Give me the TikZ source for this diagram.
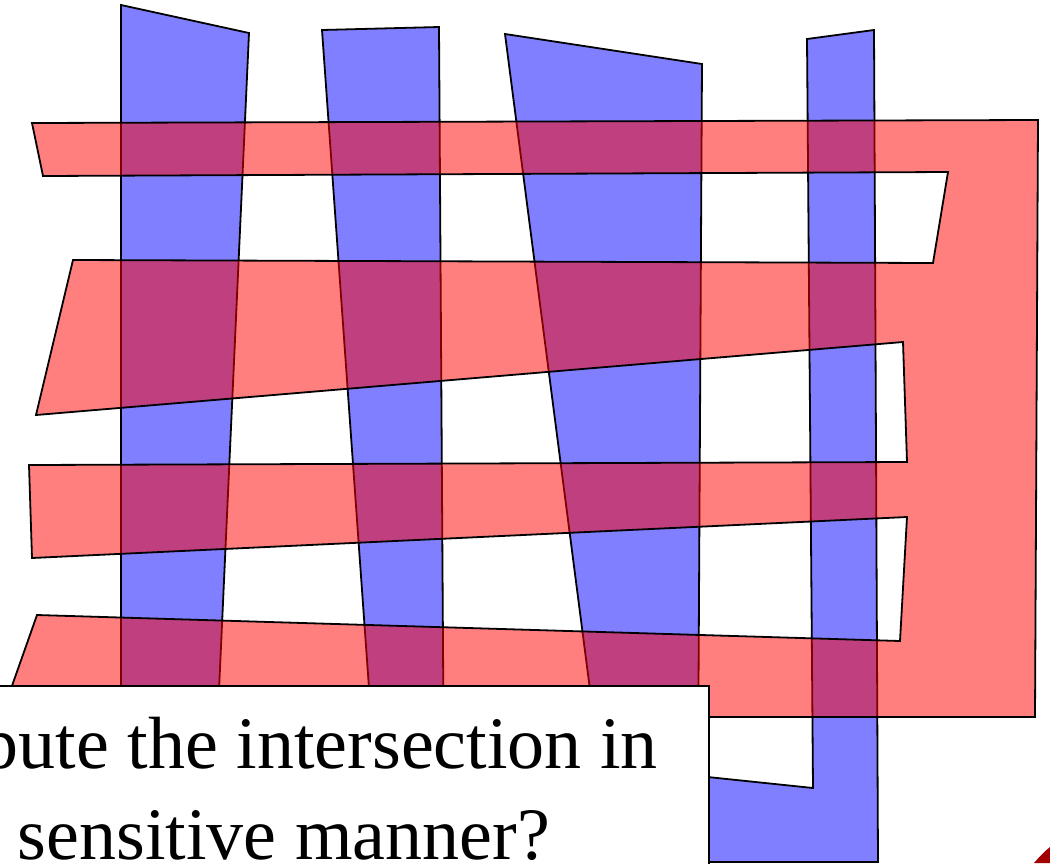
\documentclass[tikz,border=0pt]{standalone}
\usepackage{fontspec}
\setmainfont{Liberation Serif}
\usepackage{tikz}
\definecolor{combBlue}{RGB}{0, 0, 255}
\definecolor{combRed}{RGB}{255, 0, 0}
\definecolor{cornerRed}{RGB}{160, 0, 0}

\begin{document}
\begin{tikzpicture}[x=1pt, y=-1pt,
    bluecomb/.style={fill=combBlue, fill opacity=0.5, draw=black, line width=1.8pt, line join=miter},
    redcomb/.style={fill=combRed, fill opacity=0.5, draw=black, line width=1.8pt, line join=miter},
    questionbox/.style={fill=white, draw=black, line width=1.8pt},
    questiontext/.style={inner sep=0pt, font=\fontsize{74pt}{91pt}\selectfont}]
    \useasboundingbox (0,0) rectangle (1050,863);
    \clip (0,0) rectangle (1050,863);
    % blue comb, four teeth joined at the bottom
    \draw[bluecomb] (121,5) -- (249,33) -- (214,800) -- (377,800) -- (322,30) -- (439,27)
        -- (444,800) -- (603,790) -- (505,34) -- (702,64) -- (698,776) -- (813,788)
        -- (807,39) -- (874,30) -- (878,862) -- (121,862) -- cycle;
    % red comb, four teeth joined on the right
    \draw[redcomb] (32,123) -- (1038,120) -- (1035,717) -- (1,717) -- (37,615) -- (900,641)
        -- (907,517) -- (32,558) -- (29,465) -- (907,462) -- (903,342) -- (36,415)
        -- (73,260) -- (933,263) -- (948,172) -- (43,176) -- cycle;
    % question box
    \draw[questionbox] (-20,686) rectangle (709,900);
    \node[questiontext, anchor=base east] (lineOne) at (658,768) {pute the intersection in};
    \node[questiontext, anchor=base east] (lineTwo) at (550,859) {sensitive manner?};
    % corner mark
    \fill[cornerRed] (1034,863) .. controls (1040,856) and (1045,851) .. (1050,847) -- (1050,863) -- cycle;
\end{tikzpicture}
\end{document}
